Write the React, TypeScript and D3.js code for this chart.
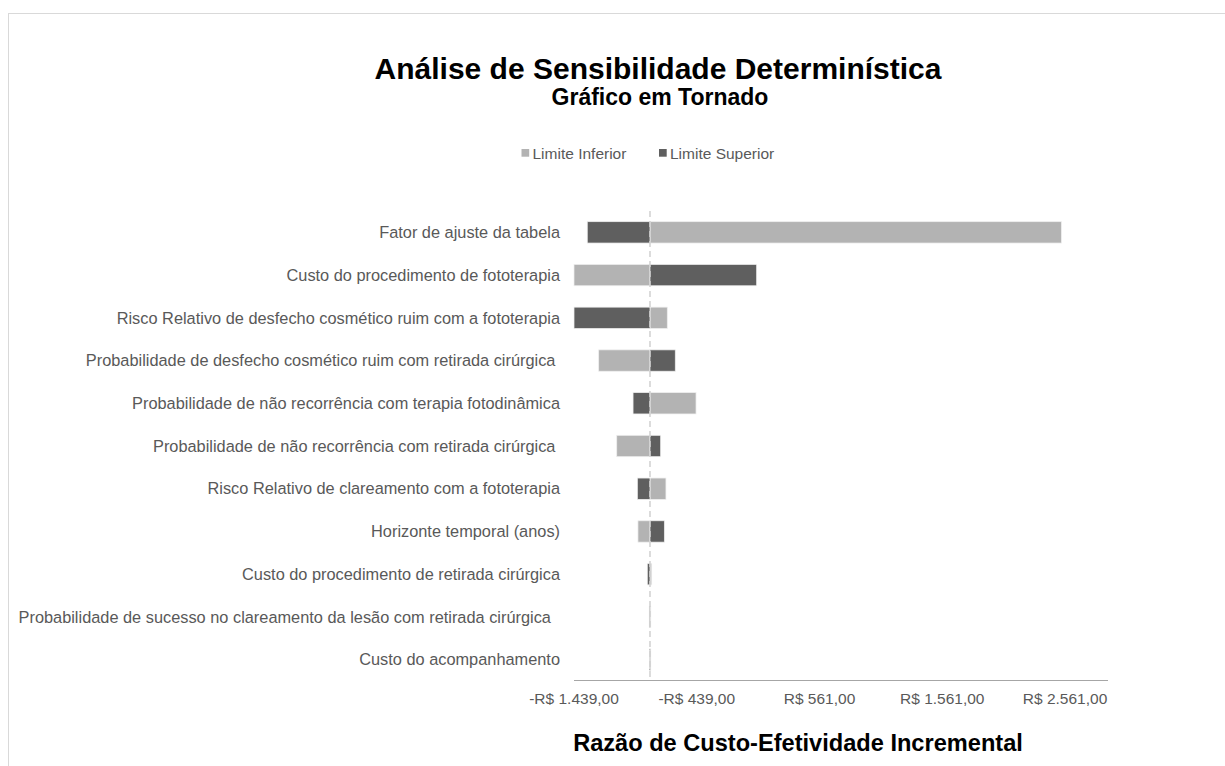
import React from "react";
import * as d3 from "d3";

const categories: string[] = [
  "Fator de ajuste da tabela",
  "Custo do procedimento de fototerapia",
  "Risco Relativo de desfecho cosmético ruim com a fototerapia",
  "Probabilidade de desfecho cosmético ruim com retirada cirúrgica ",
  "Probabilidade de não recorrência com terapia fotodinâmica",
  "Probabilidade de não recorrência com retirada cirúrgica ",
  "Risco Relativo de clareamento com a fototerapia",
  "Horizonte temporal (anos)",
  "Custo do procedimento de retirada cirúrgica",
  "Probabilidade de sucesso no clareamento da lesão com retirada cirúrgica  ",
  "Custo do acompanhamento",
];

// ICER obtained at the lower / upper limit of each parameter
const limiteInferior: number[] = [2531, -1439, -679, -1238, -445, -1091, -690, -918, -806, -814, -816];
const limiteSuperior: number[] = [-1331, 49, -1439, -614, -958, -733, -923, -703, -842, -826, -824];

const baseICER = -820;
const axisMin = -1439;
const axisMax = 2911;
const tickValues: number[] = [-1439, -439, 561, 1561, 2561];
const seriesNames: string[] = ["Limite Inferior", "Limite Superior"];

const W = 1225;
const H = 766;
const LIGHT = "#b3b3b3";
const DARK = "#5f5f5f";
const TEXT = "#595959";

const fmt = (v: number) => {
  const s = Math.abs(v).toFixed(2).replace(".", ",");
  const [ip, dp] = s.split(",");
  const withSep = ip.replace(/\B(?=(\d{3})+(?!\d))/g, ".");
  return (v < 0 ? "-" : "") + "R$ " + withSep + "," + dp;
};

export default function App() {
  const x = d3.scaleLinear().domain([axisMin, axisMax]).range([574, 1108]);
  const y = d3
    .scaleBand<string>()
    .domain(categories)
    .range([211, 681])
    .paddingInner(0.5)
    .paddingOuter(0.25);

  const font = "'Liberation Sans', Arial, sans-serif";

  const bar = (v: number, color: string, key: string, cat: string) => {
    const x0 = x(Math.min(v, baseICER));
    const x1 = x(Math.max(v, baseICER));
    return (
      <rect
        key={key}
        x={x0}
        y={y(cat)}
        width={Math.max(0.8, x1 - x0)}
        height={y.bandwidth()}
        fill={color}
        stroke="#eeeeee"
        strokeWidth={0.75}
      />
    );
  };

  return (
    <svg
      width={W}
      height={H}
      style={{ position: "absolute", left: 0, top: 0, display: "block", fontFamily: font }}
    >
      <rect x={0} y={0} width={W} height={H} fill="#ffffff" />
      <rect x={8.5} y={13.5} width={W + 20} height={H + 20} fill="#ffffff" stroke="#d9d9d9" strokeWidth={1} />

      <text x={658} y={79} textAnchor="middle" fontSize={30} fontWeight="bold" fill="#000">
        Análise de Sensibilidade Determinística
      </text>
      <text x={660} y={105} textAnchor="middle" fontSize={23} fontWeight="bold" fill="#000">
        Gráfico em Tornado
      </text>

      {/* legend */}
      <g fontSize={15.5} fill={TEXT}>
        <rect x={521.5} y={149} width={7.7} height={7.7} fill={LIGHT} />
        <text x={532.5} y={158.5}>{seriesNames[0]}</text>
        <rect x={659} y={149} width={7.7} height={7.7} fill={DARK} />
        <text x={670} y={158.5}>{seriesNames[1]}</text>
      </g>

      {/* category labels */}
      <g fontSize={16.35} fill={TEXT} textAnchor="end">
        {categories.map((c) => (
          <text
            key={c}
            x={560}
            y={(y(c) as number) + y.bandwidth() / 2}
            dy="0.35em"
            style={{ whiteSpace: "pre" }}
          >
            {c}
          </text>
        ))}
      </g>

      {/* bars */}
      {categories.map((c, i) => bar(limiteInferior[i], LIGHT, "inf" + i, c))}
      {categories.map((c, i) => bar(limiteSuperior[i], DARK, "sup" + i, c))}

      {/* base line */}
      <line
        x1={x(baseICER)}
        x2={x(baseICER)}
        y1={211}
        y2={681}
        stroke="#d0d0d0"
        strokeWidth={1.5}
        strokeDasharray="6 4"
      />

      {/* x axis */}
      <line x1={x(axisMin)} x2={x(axisMax)} y1={680.5} y2={680.5} stroke="#a6a6a6" strokeWidth={1.2} />
      <g fontSize={15.5} fill={TEXT} textAnchor="middle">
        {tickValues.map((t) => (
          <text key={t} x={x(t)} y={704}>
            {fmt(t)}
          </text>
        ))}
      </g>

      <text x={798} y={751} textAnchor="middle" fontSize={23.6} fontWeight="bold" fill="#000">
        Razão de Custo-Efetividade Incremental
      </text>
    </svg>
  );
}
